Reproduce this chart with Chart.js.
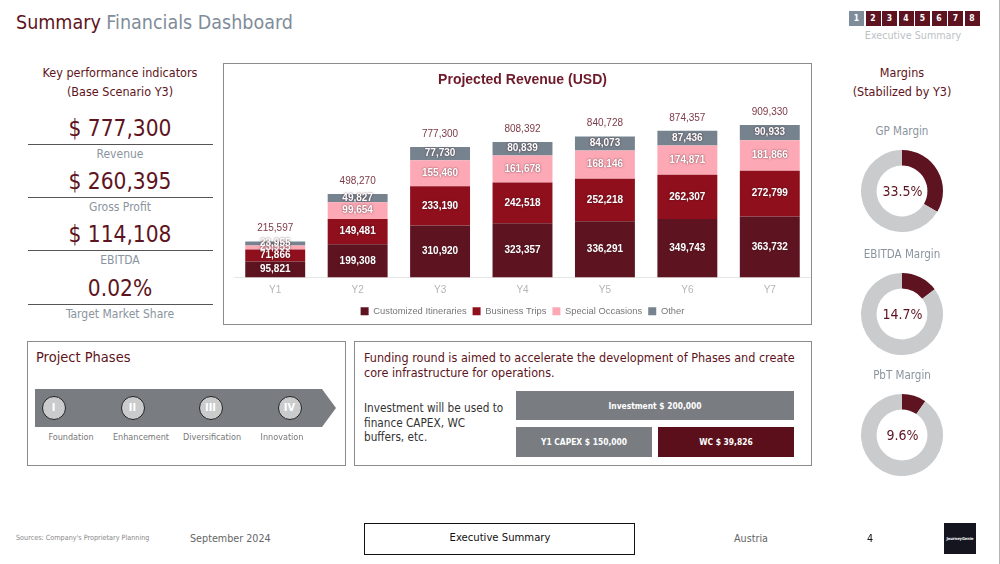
<!DOCTYPE html>
<html>
<head>
<meta charset="utf-8">
<title>Summary Financials Dashboard</title>
<script src="https://cdn.jsdelivr.net/npm/chart.js@4"></script>
<style>
html, body { margin: 0; padding: 0; background: #fff; }
body { width: 1000px; height: 564px; position: relative; overflow: hidden; font-family: "DejaVu Sans Condensed", "DejaVu Sans", sans-serif; color: #5e1420; }
.t { position: absolute; white-space: nowrap; line-height: 1; transform: translateY(-50%); }
.c { transform: translate(-50%, -50%); text-align: center; }
.grey { color: #8a949e; }
.frame { position: absolute; border: 1.5px solid #8c8c8c; box-sizing: border-box; background: #fff; }
.rule { position: absolute; left: 28px; width: 185px; height: 1px; background: #555; }
.nav { position: absolute; top: 11px; width: 15px; height: 15px; background: #5e1420; color: #fff; font-size: 8.5px; font-weight: bold; line-height: 15px; text-align: center; }
canvas { position: absolute; }
.box { position: absolute; color: #fff; font-size: 8.4px; font-weight: bold; display: flex; align-items: center; justify-content: center; }
.arrow { position: absolute; left: 35px; top: 389px; width: 301px; height: 38px; background: #797d81; clip-path: polygon(0 0, 287px 0, 100% 50%, 287px 100%, 0 100%); }
.dot { position: absolute; top: 396px; width: 22px; height: 22px; border-radius: 50%; border: 1.5px solid #222; background: #c9cbcd; color: #fff; font-size: 11px; font-weight: bold; line-height: 22px; text-align: center; }
</style>
</head>
<body>
<div style="position:absolute;left:999px;top:0;width:1px;height:564px;background:#b5b5b5"></div>
<div class="t" style="left:16px;top:23px;font-size:19.5px"><span>Summary</span> <span style="color:#7f8c99">Financials Dashboard</span></div>
<div id="nav"></div>
<div class="t c" style="left:913px;top:36px;font-size:10.7px;color:#bcc1c6">Executive Summary</div>

<div class="t c" style="left:120px;top:73px;font-size:12.5px">Key performance indicators</div>
<div class="t c" style="left:120px;top:92px;font-size:12.5px">(Base Scenario Y3)</div>
<div id="kpis"></div>

<div class="frame" style="left:223px;top:63px;width:589px;height:262px"></div>
<canvas id="revenue_chart" style="left:224px;top:64px;width:587px;height:262px" width="587" height="262"></canvas>

<div class="t c" style="left:902px;top:73px;font-size:12.5px">Margins</div>
<div class="t c" style="left:902px;top:92px;font-size:12.5px">(Stabilized by Y3)</div>
<div id="margins"></div>

<div class="frame" style="left:27px;top:341px;width:319px;height:125px"></div>
<div class="t" style="left:36px;top:357px;font-size:14.5px">Project Phases</div>
<div class="arrow"></div>
<div id="phases"></div>

<div class="frame" style="left:354px;top:341px;width:458px;height:125px"></div>
<div class="t" style="left:364px;top:358px;font-size:12.5px">Funding round is aimed to accelerate the development of Phases and create</div>
<div class="t" style="left:364px;top:373px;font-size:12.5px">core infrastructure for operations.</div>
<div class="t" style="left:364px;top:409px;font-size:11.7px;color:#333">Investment will be used to</div>
<div class="t" style="left:364px;top:424px;font-size:11.7px;color:#333">finance CAPEX, WC</div>
<div class="t" style="left:364px;top:438px;font-size:11.7px;color:#333">buffers, etc.</div>
<div class="box" style="left:516px;top:391px;width:278px;height:29px;background:#797d81">Investment $ 200,000</div>
<div class="box" style="left:516px;top:427px;width:136px;height:30px;background:#797d81">Y1 CAPEX $ 150,000</div>
<div class="box" style="left:658px;top:427px;width:136px;height:30px;background:#5a0f1b">WC $ 39,826</div>

<div class="t" style="left:16px;top:538px;font-size:7.2px;color:#888">Sources: Company's Proprietary Planning</div>
<div class="t" style="left:190px;top:538.5px;font-size:10.7px;color:#666">September 2024</div>
<div class="frame" style="left:364px;top:523px;width:271px;height:32px;border-color:#111"></div>
<div class="t c" style="left:500px;top:538px;font-size:11.2px;color:#111">Executive Summary</div>
<div class="t c" style="left:751px;top:538.5px;font-size:10.7px;color:#666">Austria</div>
<div class="t c" style="left:870px;top:538.5px;font-size:10.7px;color:#111">4</div>
<div class="box" style="left:944px;top:523px;width:32px;height:31px;background:#15151f;font-size:4px">JourneyGenie</div>

<script>
const categories = ['Y1', 'Y2', 'Y3', 'Y4', 'Y5', 'Y6', 'Y7'];
const customized = [95821, 199308, 310920, 323357, 336291, 349743, 363732];
const business = [71866, 149481, 233190, 242518, 252218, 262307, 272799];
const special = [23955, 99654, 155460, 161678, 168146, 174871, 181866];
const other = [23955, 49827, 77730, 80839, 84073, 87436, 90933];
const totals = [215597, 498270, 777300, 808392, 840728, 874357, 909330];

const margin_names = ['GP Margin', 'EBITDA Margin', 'PbT Margin'];
const margin_values = [33.5, 14.7, 9.6];
const margin_tops = [150, 273, 394];

const kpi_values = ['$ 777,300', '$ 260,395', '$ 114,108', '0.02%'];
const kpi_names = ['Revenue', 'Gross Profit', 'EBITDA', 'Target Market Share'];
const kpi_tops = [128, 181, 234, 288];

const phase_marks = ['I', 'II', 'III', 'IV'];
const phase_names = ['Foundation', 'Enhancement', 'Diversification', 'Innovation'];
const phase_lefts = [54, 133, 211, 290];
const phase_label_lefts = [71, 141, 212, 282];

const dark = '#5e1420';

// page furniture around the charts
document.getElementById('nav').innerHTML = [1, 2, 3, 4, 5, 6, 7, 8].map((n, i) =>
  `<div class="nav" style="left:${849 + i * 16.5}px;${i == 0 ? 'background:#7f8c99' : ''}">${n}</div>`).join('');

document.getElementById('kpis').innerHTML = kpi_values.map((v, i) =>
  `<div class="t c" style="left:120px;top:${kpi_tops[i]}px;font-size:22.5px">${v}</div>
   <div class="rule" style="top:${kpi_tops[i] + 16}px"></div>
   <div class="t c grey" style="left:120px;top:${kpi_tops[i] + 26}px;font-size:12px">${kpi_names[i]}</div>`).join('');

document.getElementById('phases').innerHTML = phase_marks.map((m, i) =>
  `<div class="dot" style="left:${phase_lefts[i] - 12.5}px">${m}</div>
   <div class="t c" style="left:${phase_label_lefts[i]}px;top:437px;font-size:9px;color:#777">${phase_names[i]}</div>`).join('');

// numbers inside the segments and the totals above the bars
const bar_labels = {
  id: 'bar_labels',
  afterDatasetsDraw(chart) {
    const ctx = chart.ctx;
    ctx.save();
    ctx.textAlign = 'center';
    ctx.textBaseline = 'middle';
    ctx.font = 'bold 10px "Liberation Sans"';
    ctx.fillStyle = '#fff';
    ctx.shadowColor = 'rgba(60,20,30,0.8)';
    ctx.shadowBlur = 2;
    chart.data.datasets.forEach((ds, d) => {
      chart.getDatasetMeta(d).data.forEach((bar, i) => {
        ctx.fillText(ds.data[i].toLocaleString('en-US'), bar.x, (bar.y + bar.base) / 2);
      });
    });
    ctx.shadowBlur = 0;
    ctx.font = '10px "Liberation Sans"';
    ctx.fillStyle = '#7d3a48';
    chart.getDatasetMeta(3).data.forEach((bar, i) => {
      ctx.fillText(totals[i].toLocaleString('en-US'), bar.x, bar.y - 13);
    });
    ctx.restore();
  }
};

new Chart(document.getElementById('revenue_chart'), {
  type: 'bar',
  data: {
    labels: categories,
    datasets: [
      { label: 'Customized Itineraries', data: customized, backgroundColor: '#5e1420' },
      { label: 'Business Trips', data: business, backgroundColor: '#8f0f1c' },
      { label: 'Special Occasions', data: special, backgroundColor: '#fda9b5' },
      { label: 'Other', data: other, backgroundColor: '#76838f' }
    ]
  },
  options: {
    responsive: false,
    animation: false,
    layout: { padding: { left: 10, right: 0, top: 0, bottom: 0 } },
    datasets: { bar: { categoryPercentage: 0.727, barPercentage: 1 } },
    scales: {
      x: {
        stacked: true,
        grid: { display: false, drawTicks: false },
        border: { color: '#e6e6e6' },
        ticks: { color: '#b5b5b5', font: { family: 'Liberation Sans', size: 10 }, padding: 7 },
        afterFit(scale) { scale.height = 23; }
      },
      y: { stacked: true, display: false, min: 0, max: 1088800 }
    },
    plugins: {
      title: {
        display: true,
        text: 'Projected Revenue (USD)',
        color: '#6e1a2a',
        font: { family: 'Liberation Sans', size: 14, weight: 'bold' },
        padding: { top: 8, bottom: 6 }
      },
      legend: {
        position: 'bottom',
        labels: { boxWidth: 8, boxHeight: 8, padding: 6, color: '#777', font: { family: 'Liberation Sans', size: 9.4 } }
      },
      tooltip: { enabled: false }
    }
  },
  plugins: [bar_labels]
});

// one ring per margin
const margins_el = document.getElementById('margins');
margin_values.forEach((v, i) => {
  const top = margin_tops[i];
  margins_el.insertAdjacentHTML('beforeend',
    `<div class="t c grey" style="left:902px;top:${top - 18}px;font-size:11.5px">${margin_names[i]}</div>
     <canvas id="margin_${i}" style="left:861px;top:${top}px;width:82px;height:82px" width="82" height="82"></canvas>
     <div class="t c" style="left:902.5px;top:${top + 41}px;font-size:14px">${v}%</div>`);
});
margin_values.forEach((v, i) => {
  new Chart(document.getElementById('margin_' + i), {
    type: 'doughnut',
    data: { datasets: [{ data: [v, 100 - v], backgroundColor: [dark, '#c9cbcd'], borderWidth: 0 }] },
    options: {
      responsive: false,
      animation: false,
      cutout: '62%',
      plugins: { legend: { display: false }, tooltip: { enabled: false } }
    }
  });
});
</script>
</body>
</html>
